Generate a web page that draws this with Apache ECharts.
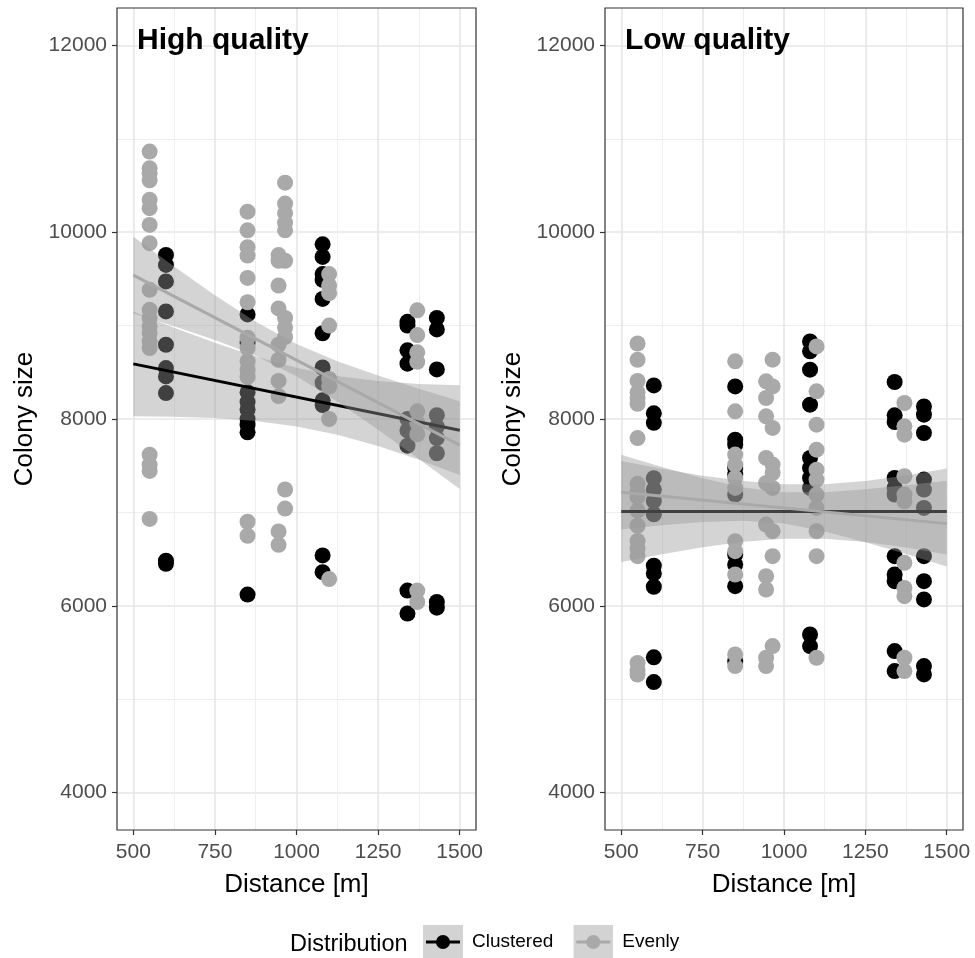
<!DOCTYPE html>
<html>
<head>
<meta charset="utf-8">
<script src="https://cdn.jsdelivr.net/npm/echarts@6/dist/echarts.min.js"></script>
<style>
html,body{margin:0;padding:0;background:#fff;}
#chart{width:975px;height:958px;}
</style>
</head>
<body>
<div id="chart"></div>
<script>
// ---------- DATA ----------
const panelTitles = ['High quality', 'Low quality'];
const xTicks = [500, 750, 1000, 1250, 1500];
const yTicks = [4000, 6000, 8000, 10000, 12000];
const groupNames = ['Clustered', 'Evenly'];

// High quality – Clustered  [distance, colony size]
const highClustered = [
  [600,9757],[600,9650],[600,9473],[600,9152],[600,8795],[600,8545],[600,8456],[600,8278],[600,6483],[600,6450],
  [850,9120],[850,8816],[850,8286],[850,8184],[850,8102],[850,8000],[850,7939],[850,7857],[850,6120],
  [1080,9870],[1080,9735],[1080,9551],[1080,9490],[1080,9286],[1080,8918],[1080,8551],[1080,8388],[1080,8200],[1080,8150],[1080,6540],[1080,6360],
  [1340,9040],[1340,9000],[1340,8735],[1340,8592],[1340,8000],[1340,7878],[1340,7714],[1340,6163],[1340,5918],
  [1430,9082],[1430,8959],[1430,8531],[1430,8041],[1430,7918],[1430,7796],[1430,7633],[1430,6041],[1430,5980]
];
// High quality – Evenly
const highEvenly = [
  [550,10863],[550,10684],[550,10630],[550,10556],[550,10346],[550,10257],[550,10078],[550,9882],[550,9383],[550,9169],
  [550,9080],[550,8990],[550,8920],[550,8834],[550,8760],[550,7618],[550,7511],[550,7444],[550,6930],
  [850,10220],[850,10020],[850,9840],[850,9750],[850,9510],[850,9250],[850,8870],[850,8760],[850,8620],[850,8530],[850,8450],[850,6900],[850,6750],
  [965,10530],[965,10306],[965,10204],[965,10102],[965,10020],[945,9755],[965,9694],[945,9694],[945,9429],[945,9184],
  [965,9082],[965,8980],[965,8878],[945,8796],[945,8633],[945,8408],[945,8245],[965,7245],[965,7041],[945,6796],[945,6653],
  [1100,9551],[1100,9429],[1100,9347],[1100,9000],[1100,8429],[1100,8347],[1100,8000],[1100,6286],
  [1370,9163],[1370,8898],[1370,8714],[1370,8612],[1370,8082],[1370,7959],[1370,7837],[1370,6163],[1370,6041]
];
// Low quality – Clustered
const lowClustered = [
  [600,8359],[600,8061],[600,7959],[600,7367],[600,7245],[600,7122],[600,6980],[600,6429],[600,6347],[600,6204],[600,5449],[600,5184],
  [850,8349],[850,7779],[850,7725],[850,7476],[850,7405],[850,7191],[850,6549],[850,6442],[850,6210],[850,5408],
  [1080,8831],[1080,8724],[1080,8528],[1080,8153],[1080,7583],[1080,7476],[1080,7370],[1080,7262],[1080,5693],[1080,5569],
  [1340,8396],[1340,8039],[1340,7968],[1340,7369],[1340,7262],[1340,7191],[1340,6531],[1340,6335],[1340,6264],[1340,5515],[1340,5301],
  [1430,8135],[1430,8046],[1430,7850],[1430,7351],[1430,7244],[1430,7048],[1430,6531],[1430,6264],[1430,6068],[1430,5355],[1430,5266]
];
// Low quality – Evenly
const lowEvenly = [
  [550,8808],[550,8633],[550,8408],[550,8286],[550,8224],[550,8163],[550,7796],[550,7306],[550,7224],[550,7163],
  [550,7020],[550,6857],[550,6694],[550,6612],[550,6531],[550,5388],[550,5306],[550,5265],
  [850,8617],[850,8082],[850,7619],[850,7512],[850,7370],[850,7262],[850,6692],[850,6585],[850,6335],[850,5480],[850,5355],
  [965,8635],[945,8403],[965,8349],[945,8225],[945,8029],[965,7904],[945,7583],[965,7512],[965,7422],[945,7316],[965,7262],
  [945,6870],[965,6799],[965,6531],[945,6317],[945,6175],[965,5569],[945,5444],[945,5355],
  [1100,8777],[1100,8296],[1100,7939],[1100,7672],[1100,7458],[1100,7351],[1100,7191],[1100,7048],[1100,6799],[1100,6531],[1100,5444],
  [1370,8171],[1370,7922],[1370,7832],[1370,7387],[1370,7191],[1370,7119],[1370,6460],[1370,6192],[1370,6103],[1370,5444],[1370,5301]
];

// fitted lines and confidence bands
const fitX = [500, 625, 750, 875, 1000, 1125, 1250, 1375, 1500];
const highClusteredFit   = [8590, 7880];
const highClusteredLower = [8030, 8024, 8010, 7978, 7921, 7831, 7710, 7563, 7400];
const highClusteredUpper = [9150, 8978, 8816, 8670, 8549, 8461, 8406, 8375, 8360];
const highEvenlyFit      = [9540, 7720];
const highEvenlyLower    = [9130, 8993, 8845, 8676, 8458, 8188, 7885, 7571, 7250];
const highEvenlyUpper    = [9950, 9633, 9325, 9040, 8802, 8618, 8465, 8325, 8190];
const lowClusteredFit    = [7010, 7010];
const lowClusteredLower  = [6470, 6553, 6627, 6685, 6719, 6718, 6684, 6624, 6550];
const lowClusteredUpper  = [7550, 7467, 7393, 7335, 7301, 7302, 7336, 7396, 7470];
const lowEvenlyFit       = [7216, 6880];
const lowEvenlyLower     = [6816, 6862, 6898, 6912, 6880, 6796, 6681, 6554, 6421];
const lowEvenlyUpper     = [7616, 7486, 7366, 7268, 7216, 7216, 7247, 7290, 7339];

// ---------- LAYOUT ----------
const xRange = [450, 1550];
const yRange = [3600, 12400];
const panels = [
  {left:117, width:359, title:panelTitles[0], pts:[highClustered, highEvenly],
   fit:[[highClusteredFit, highClusteredLower, highClusteredUpper],[highEvenlyFit, highEvenlyLower, highEvenlyUpper]]},
  {left:605, width:358, title:panelTitles[1], pts:[lowClustered, lowEvenly],
   fit:[[lowClusteredFit, lowClusteredLower, lowClusteredUpper],[lowEvenlyFit, lowEvenlyLower, lowEvenlyUpper]]}
];
const TOP = 8, HEIGHT = 822;
const FONT = "'Liberation Sans', Arial, sans-serif";
const colors = ['#000000', '#a9a9a9'];
const bandFill = 'rgba(153,153,153,0.42)';

const grids = [], xAxes = [], yAxes = [], series = [], titles = [];
const xSpan = xRange[1]-xRange[0], ySpan = yRange[1]-yRange[0];
const xt0 = xTicks[0], xt1 = xTicks[xTicks.length-1];
const yt0 = yTicks[0], yt1 = yTicks[yTicks.length-1];
const plain = v => String(v);

panels.forEach((p, i) => {
  const g = i*3;
  grids.push({left:p.left, top:TOP, width:p.width, height:HEIGHT, show:true,
              borderColor:'#333333', borderWidth:1.2, backgroundColor:'transparent', z:3});
  grids.push({left:p.left + (xt0-xRange[0])/xSpan*p.width, width:(xt1-xt0)/xSpan*p.width,
              top:TOP, height:HEIGHT, show:false});
  grids.push({left:p.left, width:p.width, top:TOP + (yRange[1]-yt1)/ySpan*HEIGHT,
              height:(yt1-yt0)/ySpan*HEIGHT, show:false});

  xAxes.push({type:'value', gridIndex:g, min:xRange[0], max:xRange[1], show:false});
  xAxes.push({type:'value', gridIndex:g+1, min:xt0, max:xt1, interval:250,
    axisLine:{show:false},
    axisTick:{show:true, length:5, lineStyle:{color:'#333333', width:1.2}},
    axisLabel:{color:'#4d4d4d', fontSize:21, fontFamily:FONT, margin:12, formatter:plain},
    splitLine:{show:true, lineStyle:{color:'#e6e6e6', width:1.6}},
    minorTick:{show:false, splitNumber:2},
    minorSplitLine:{show:true, lineStyle:{color:'#eeeeee', width:1}},
    name:'Distance [m]', nameLocation:'middle', nameGap:42,
    nameTextStyle:{color:'#000', fontSize:26, fontFamily:FONT}});
  xAxes.push({type:'value', gridIndex:g+2, min:0, max:1, show:false});

  yAxes.push({type:'value', gridIndex:g, min:yRange[0], max:yRange[1], show:false});
  yAxes.push({type:'value', gridIndex:g+1, min:0, max:1, show:false});
  yAxes.push({type:'value', gridIndex:g+2, min:yt0, max:yt1, interval:2000,
    axisLine:{show:false},
    axisTick:{show:true, length:5, lineStyle:{color:'#333333', width:1.2}},
    axisLabel:{color:'#4d4d4d', fontSize:21, fontFamily:FONT, margin:10, formatter:plain},
    splitLine:{show:true, lineStyle:{color:'#e6e6e6', width:1.6}},
    minorTick:{show:false, splitNumber:2},
    minorSplitLine:{show:true, lineStyle:{color:'#eeeeee', width:1}},
    name:'Colony size', nameLocation:'middle', nameGap:79,
    nameTextStyle:{color:'#000', fontSize:26, fontFamily:FONT}});

  // points
  p.pts.forEach((pts, k) => {
    series.push({type:'scatter', name:groupNames[k], xAxisIndex:g, yAxisIndex:g,
      data:pts, symbolSize:16, itemStyle:{color:colors[k], opacity:1}, z:2, silent:true});
  });
  // confidence bands + fitted lines
  p.fit.forEach((f, k) => {
    const [fit, lower, upper] = f;
    const bandData = fitX.map((x, j) => [x, lower[j], upper[j]]);
    series.push({type:'custom', name:'band'+i+k, xAxisIndex:g, yAxisIndex:g, silent:true,
      z:3+k*2, clip:true, data:bandData,
      renderItem:(params, api) => {
        if (params.dataIndex !== 0) return null;
        const top = bandData.map(d => api.coord([d[0], d[2]]));
        const bot = bandData.map(d => api.coord([d[0], d[1]])).reverse();
        return {type:'polygon', shape:{points:top.concat(bot)}, style:{fill:bandFill}};
      }});
    series.push({type:'line', name:groupNames[k], xAxisIndex:g, yAxisIndex:g,
      data:[[xt0, fit[0]], [xt1, fit[1]]], symbol:'none',
      lineStyle:{color:colors[k], width:3}, itemStyle:{color:colors[k]}, z:4+k*2, silent:true});
  });

  titles.push({text:p.title, left:p.left+20, top:26, padding:0,
    textStyle:{fontSize:30, fontWeight:'bold', color:'#000', fontFamily:FONT}});
});

function keyIcon(col){
  const svg = "<svg xmlns='http://www.w3.org/2000/svg' width='40' height='34'>" +
    "<rect width='40' height='34' fill='#d3d3d3'/>" +
    "<line x1='3' y1='17' x2='37' y2='17' stroke='"+col+"' stroke-width='3'/>" +
    "<circle cx='20' cy='17' r='7' fill='"+col+"'/></svg>";
  return 'image://data:image/svg+xml;charset=utf-8,' + encodeURIComponent(svg);
}

const chart = echarts.init(document.getElementById('chart'), null, {renderer:'canvas'});
chart.setOption({
  animation:false,
  backgroundColor:'#ffffff',
  title:titles,
  grid:grids,
  xAxis:xAxes,
  yAxis:yAxes,
  series:series,
  legend:{
    left:423, top:925, orient:'horizontal', padding:0,
    itemWidth:40, itemHeight:34, itemGap:20, selectedMode:false,
    textStyle:{fontSize:19, color:'#000', fontFamily:FONT, padding:[3,0,0,4]},
    data:groupNames.map((n,k)=>({name:n, icon:keyIcon(colors[k])}))
  },
  graphic:[{type:'text', left:290, top:933,
    style:{text:'Distribution', fontSize:23.5, fill:'#000', fontFamily:FONT}}]
});
</script>
</body>
</html>
